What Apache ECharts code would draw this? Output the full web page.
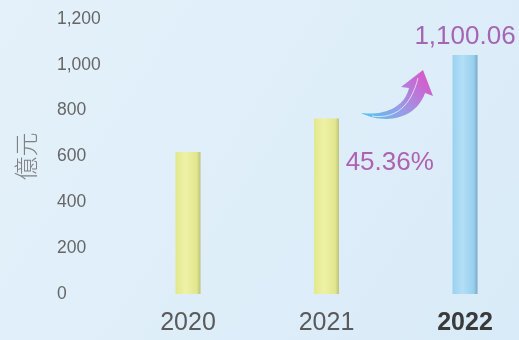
<!DOCTYPE html>
<html><head><meta charset="utf-8">
<script src="https://cdn.jsdelivr.net/npm/echarts@6/dist/echarts.min.js"></script>
<style>html,body{margin:0;padding:0;}#c{width:519px;height:340px;}</style>
</head><body><div id="c"></div>
<script>
var years = ['2020', '2021', '2022'];
var values = [620, 766, 1043];
var valueLabels = ['', '', '1,100.06'];
var growthLabel = '45.36%';
var growthValue = 572;
var yTicks = [0, 200, 400, 600, 800, 1000, 1200];
var unitName = '億元';

var chart = echarts.init(document.getElementById('c'));
var yellowGrad = new echarts.graphic.LinearGradient(0,0,1,0,[
  {offset:0,color:'#e3e88c'},{offset:0.4,color:'#eef2a6'},{offset:0.85,color:'#e2e68e'},{offset:1,color:'#bcc27a'}]);
var blueGrad = new echarts.graphic.LinearGradient(0,0,1,0,[
  {offset:0,color:'#9ad2f0'},{offset:0.4,color:'#b3def6'},{offset:0.85,color:'#98cfee'},{offset:1,color:'#7aa9c4'}]);
chart.setOption({
  backgroundColor: new echarts.graphic.LinearGradient(0,0,1,1,[{offset:0,color:'#e4f1fa'},{offset:1,color:'#d9ebf8'}]),
  animation:false,
  grid:{left:188,right:54,top:19,bottom:46},
  xAxis:{type:'category',data:years,boundaryGap:false,
    axisLine:{show:false},axisTick:{show:false},splitLine:{show:false},
    axisLabel:{margin:17,fontSize:25,color:'#5a5a5a',fontFamily:'Liberation Sans',
      formatter:function(v,i){return i===2?'{b|'+v+'}':v;},
      rich:{b:{fontSize:25,fontWeight:'bold',color:'#3a3a3a',fontFamily:'Liberation Sans'}}}},
  yAxis:{type:'value',min:yTicks[0],max:yTicks[yTicks.length-1],interval:200,
    name:unitName,nameLocation:'middle',nameRotate:90,nameGap:150,
    nameTextStyle:{fontSize:24,color:'#808080',fontFamily:'Noto Sans CJK TC',fontWeight:300},
    axisLine:{show:false},axisTick:{show:false},splitLine:{show:false},
    axisLabel:{margin:131,align:'left',fontSize:17.5,color:'#666',fontFamily:'Liberation Sans',
      formatter:function(v){return v.toLocaleString('en-US');}}},
  series:[{type:'bar',barWidth:25,
    data:values.map(function(v,i){return {value:v,itemStyle:{color:i===2?blueGrad:yellowGrad}};}),
    label:{show:true,position:'top',distance:5,fontSize:26,color:'#a565b4',fontFamily:'Liberation Sans',
      formatter:function(p){return valueLabels[p.dataIndex];}}}]
});
function bez(p0,p1,p2,p3,n){var o=[];for(var i=0;i<=n;i++){var t=i/n,u=1-t;
  o.push([u*u*u*p0[0]+3*u*u*t*p1[0]+3*u*t*t*p2[0]+t*t*t*p3[0],u*u*u*p0[1]+3*u*u*t*p1[1]+3*u*t*t*p2[1]+t*t*t*p3[1]]);}return o;}
var arrowPts = bez([361,113],[385,125],[416,119],[425,93],24)
  .concat([[433,96],[423,70],[401,87]])
  .concat(bez([409,88],[405,106],[386,116],[361,113],24));
var hiPts = bez([372,116],[392,119],[410,110],[418,78],20);
var p1 = chart.convertToPixel({gridIndex:0},[1,growthValue]);
var p2 = chart.convertToPixel({gridIndex:0},[2,growthValue]);
chart.setOption({graphic:[
  {type:'text',x:(p1[0]+p2[0])/2-6,y:p1[1],style:{text:growthLabel,fontSize:26,fill:'#ae62b2',fontFamily:'Liberation Sans',align:'center',verticalAlign:'middle'}},
  {type:'polygon',shape:{points:arrowPts},
   style:{fill:new echarts.graphic.LinearGradient(0,1,0.8,0,[{offset:0,color:'#4fc8f0'},{offset:0.5,color:'#9a9ae6'},{offset:1,color:'#d35ccc'}])}},
  {type:'polyline',shape:{points:hiPts},style:{stroke:'rgba(255,255,255,0.85)',lineWidth:0.8,fill:null}}
]});
</script></body></html>
